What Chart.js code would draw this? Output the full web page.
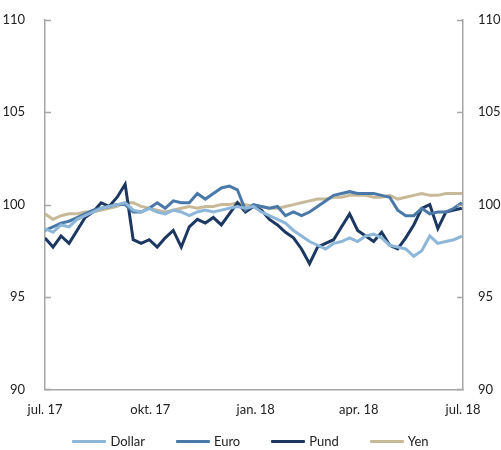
<!DOCTYPE html>
<html>
<head>
<meta charset="utf-8">
<script src="https://cdn.jsdelivr.net/npm/chart.js@4/dist/chart.umd.min.js"></script>
<style>
  html, body { margin: 0; padding: 0; background: #fff; }
  #wrap { position: relative; width: 501px; height: 450px; }
  #legend {
    position: absolute; left: 0; right: 0; top: 433px;
    display: flex; justify-content: center; gap: 31px;
    font: 13px Lato, 'Open Sans', sans-serif; color: #222;
  }
  #legend .item { display: flex; align-items: center; }
  #legend .swatch { width: 34px; height: 3px; margin-right: 4px; border-radius: 1px; }
</style>
</head>
<body>
<div id="wrap"><canvas id="chart"></canvas><div id="legend"></div></div>
<script>
// Weekly observations, day offsets from 1 July 2017
const days = Array.from({ length: 53 }, (_, i) => i * 7);

const tickDays = [0, 92, 184, 274, 365];
const tickLabels = ['jul. 17', 'okt. 17', 'jan. 18', 'apr. 18', 'jul. 18'];
const yTicks = [90, 95, 100, 105, 110];

const dollar = [98.7, 98.5, 98.9, 98.8, 99.2, 99.4, 99.6, 99.8, 99.9, 100.0,
  100.1, 99.7, 99.6, 99.8, 99.6, 99.5, 99.7, 99.6, 99.4, 99.6,
  99.7, 99.6, 99.7, 99.8, 99.9, 99.8, 99.9, 99.6, 99.4, 99.2,
  99.0, 98.6, 98.3, 98.0, 97.8, 97.6, 97.9, 98.0, 98.2, 98.0,
  98.3, 98.4, 98.2, 97.8, 97.7, 97.6, 97.2, 97.5, 98.3, 97.9,
  98.0, 98.1, 98.3];

const euro = [98.6, 98.8, 99.0, 99.1, 99.3, 99.5, 99.7, 99.8, 99.9, 100.0,
  100.0, 99.6, 99.6, 99.8, 100.1, 99.8, 100.2, 100.1, 100.1, 100.6,
  100.3, 100.6, 100.9, 101.0, 100.8, 99.7, 100.0, 99.9, 99.8, 99.9,
  99.4, 99.6, 99.4, 99.6, 99.9, 100.2, 100.5, 100.6, 100.7, 100.6,
  100.6, 100.6, 100.5, 100.4, 99.7, 99.4, 99.4, 99.8, 99.5, 99.6,
  99.6, 99.8, 100.1];

const pund = [98.2, 97.7, 98.3, 97.9, 98.6, 99.3, 99.6, 100.1, 99.9, 100.4,
  101.1, 98.1, 97.9, 98.1, 97.7, 98.2, 98.6, 97.7, 98.8, 99.2,
  99.0, 99.3, 98.9, 99.5, 100.1, 99.6, 99.9, 99.7, 99.2, 98.9,
  98.5, 98.2, 97.6, 96.8, 97.7, 97.9, 98.1, 98.8, 99.5, 98.6,
  98.3, 98.0, 98.5, 97.8, 97.6, 98.2, 98.9, 99.8, 100.0, 98.7,
  99.6, 99.7, 99.8];

const yen = [99.5, 99.2, 99.4, 99.5, 99.5, 99.6, 99.6, 99.7, 99.8, 99.9,
  100.1, 100.1, 99.9, 99.8, 99.7, 99.6, 99.7, 99.8, 99.9, 99.8,
  99.9, 99.9, 100.0, 100.0, 100.1, 100.0, 99.9, 99.9, 99.8, 99.8,
  99.9, 100.0, 100.1, 100.2, 100.3, 100.3, 100.4, 100.4, 100.5, 100.5,
  100.5, 100.4, 100.4, 100.5, 100.3, 100.4, 100.5, 100.6, 100.5, 100.5,
  100.6, 100.6, 100.6];

const AXIS_COLOR = '#a6a6a6';
const TEXT_COLOR = '#222';
const FONT = { family: "Lato, 'Open Sans', sans-serif", size: 13 };

const toPoints = (vals) => vals.map((v, i) => ({ x: days[i], y: v }));

function series(label, vals, color) {
  return {
    label: label,
    data: toPoints(vals),
    borderColor: color,
    backgroundColor: color,
    borderWidth: 3,
    pointRadius: 0,
    tension: 0,
    fill: false
  };
}

// small inward tick marks on both value axes
const innerTicks = {
  id: 'innerTicks',
  afterDraw(chart) {
    const { ctx, chartArea } = chart;
    const y = chart.scales.y;
    ctx.save();
    ctx.strokeStyle = AXIS_COLOR;
    ctx.lineWidth = 1.5;
    yTicks.forEach(v => {
      const py = Math.round(y.getPixelForValue(v)) + 0.5;
      ctx.beginPath();
      ctx.moveTo(chartArea.left, py);
      ctx.lineTo(chartArea.left + 6, py);
      ctx.moveTo(chartArea.right, py);
      ctx.lineTo(chartArea.right - 6, py);
      ctx.stroke();
    });
    ctx.restore();
  }
};

const chart = new Chart(document.getElementById('chart'), {
  type: 'line',
  data: {
    datasets: [
      series('Dollar', dollar, '#8db6d8'),
      series('Euro', euro, '#4a78a8'),
      series('Pund', pund, '#1c3862'),
      series('Yen', yen, '#c8ba98')
    ]
  },
  options: {
    responsive: true,
    maintainAspectRatio: false,
    animation: false,
    layout: { padding: { top: 8, left: 0, right: 0, bottom: 27 } },
    plugins: {
      legend: { display: false },
      tooltip: { enabled: false }
    },
    scales: {
      x: {
        type: 'linear',
        min: 0,
        max: 365,
        afterBuildTicks: (scale) => {
          scale.ticks = tickDays.map(v => ({ value: v }));
        },
        ticks: {
          color: TEXT_COLOR,
          font: FONT,
          padding: 5,
          maxRotation: 0,
          autoSkip: false,
          callback: (value) => tickLabels[tickDays.indexOf(value)]
        },
        grid: { display: false },
        border: { display: true, color: AXIS_COLOR, width: 1.5 }
      },
      y: {
        position: 'left',
        min: 90,
        max: 110,
        afterBuildTicks: (scale) => {
          scale.ticks = yTicks.map(v => ({ value: v }));
        },
        afterFit: (scale) => { scale.width = 45; },
        ticks: { color: TEXT_COLOR, font: FONT, padding: 12 },
        grid: { display: false },
        border: { display: true, color: AXIS_COLOR, width: 1.5 }
      },
      y2: {
        position: 'right',
        min: 90,
        max: 110,
        afterBuildTicks: (scale) => {
          scale.ticks = yTicks.map(v => ({ value: v }));
        },
        afterFit: (scale) => { scale.width = 38; },
        ticks: { color: TEXT_COLOR, font: FONT, padding: 7 },
        grid: { display: false },
        border: { display: true, color: AXIS_COLOR, width: 1.5 }
      }
    }
  },
  plugins: [innerTicks]
});

// legend built from the chart's own datasets
const legendEl = document.getElementById('legend');
chart.data.datasets.forEach(ds => {
  const item = document.createElement('div');
  item.className = 'item';
  item.innerHTML = '<span class="swatch" style="background:' + ds.borderColor + '"></span>' + ds.label;
  legendEl.appendChild(item);
});
</script>
</body>
</html>
